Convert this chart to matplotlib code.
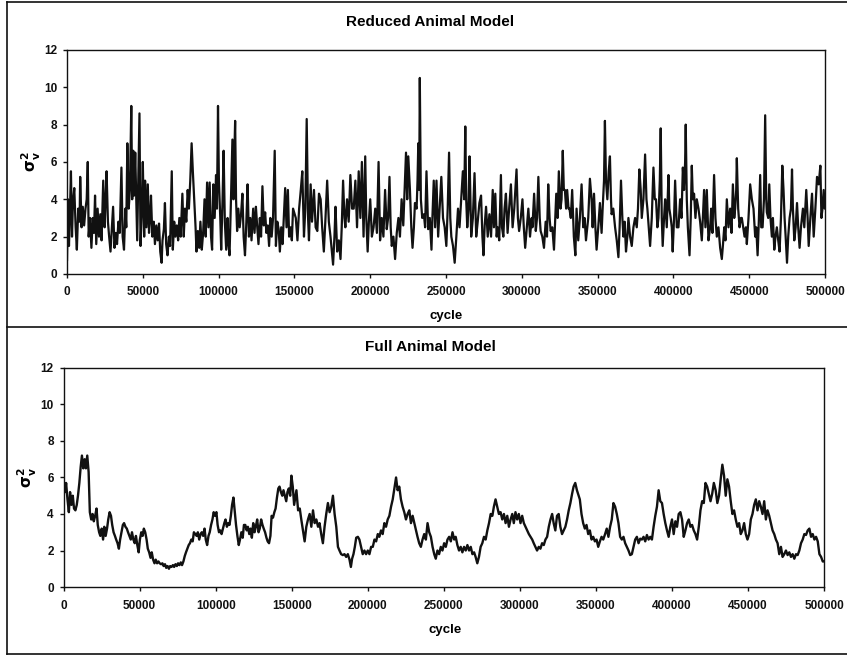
import matplotlib
matplotlib.use("Agg")
import matplotlib.pyplot as plt
from matplotlib.lines import Line2D

plt.rcParams['font.family'] = ['Liberation Sans', 'DejaVu Sans']
plt.rcParams['font.weight'] = 'bold'

# --- Reduced animal model trace (cycle in thousands, sigma_v^2) ---
reduced_cycle_k = [
    0, 0.65, 1.3, 2.0, 2.6, 3.3, 3.9, 4.8, 5.7, 6.5, 7.4, 8.3, 8.7, 9.6, 10.4, 11.3, 12.2, 13.0, 13.7, 14.3,
    15.2, 16.1, 17.0, 17.8, 18.5, 19.3, 20.2, 21.1, 22.0, 22.8, 23.9, 24.8, 25.4, 26.1, 27.0, 27.8, 28.7, 29.6,
    30.4, 31.3, 32.2, 33.0, 33.9, 34.8, 35.9, 36.7, 37.6, 38.5, 39.1, 39.8, 40.7, 41.5, 42.4, 43.0, 43.7, 44.3,
    45.0, 45.7, 46.3, 47.0, 47.8, 48.5, 49.4, 50.0, 50.9, 51.5, 52.4, 53.3, 54.1, 54.8, 55.4, 56.3, 57.2, 58.0,
    58.9, 59.8, 60.7, 61.5, 62.4, 63.0, 63.9, 64.6, 65.4, 66.3, 67.2, 68.0, 69.1, 69.8, 70.7, 71.5, 72.4, 73.3,
    74.1, 75.0, 76.1, 77.0, 77.8, 78.7, 79.6, 80.4, 81.3, 82.2, 83.0, 83.9, 84.8, 85.4, 86.3, 87.2, 88.0, 88.9,
    89.8, 90.7, 91.5, 92.4, 93.3, 94.1, 95.0, 95.7, 96.5, 97.4, 98.3, 98.9, 99.6, 100.2, 101.1, 101.7, 102.6,
    103.3, 104.1, 105.0, 105.9, 106.5, 107.2, 108.0, 109.1, 109.8, 110.4, 110.9, 111.5, 112.2, 113.0, 113.9,
    114.8, 115.7, 116.5, 117.4, 118.3, 119.1, 120.0, 120.9, 121.7, 122.8, 123.7, 124.6, 125.4, 126.3, 127.2,
    128.0, 128.9, 129.8, 130.7, 131.5, 132.4, 133.3, 134.1, 135.0, 135.9, 137.0, 137.8, 138.7, 139.6, 140.4,
    141.3, 142.2, 143.0, 143.9, 144.8, 145.7, 146.5, 147.4, 148.3, 149.1,
    150.9, 152.0, 153.1, 154.2, 155.2, 156.3, 157.2, 158.1, 159.0, 159.6, 160.7, 161.6, 162.5, 162.9, 164.0,
    165.1, 166.2, 167.3, 168.3, 169.4, 170.5, 171.6, 172.7, 173.8, 174.7, 175.5, 176.4, 177.1, 178.2, 179.3,
    180.4, 181.2, 182.1, 183.0, 183.6, 184.7, 185.8, 186.9, 188.0, 189.1, 190.2, 191.3, 192.4, 193.5, 194.5,
    195.6, 196.7, 197.4, 198.3, 199.1, 200.0, 201.1, 202.2, 203.3, 204.4, 205.5, 206.5, 207.6, 208.7, 209.8,
    210.9, 211.8, 212.7, 213.5, 214.2, 215.3, 216.4, 217.5, 218.6, 219.6, 220.7, 221.8, 222.9, 223.6, 224.4,
    225.1, 226.2, 227.1, 227.9, 228.8, 229.5, 230.6, 231.2, 231.7, 232.3, 232.7, 233.4, 234.3, 235.4, 236.2,
    237.1, 238.2, 239.3, 240.4, 241.0, 241.9, 242.8, 243.7, 244.8, 245.8, 246.9, 248.0, 249.1, 250.2, 251.1,
    252.0, 252.8, 253.5, 254.6, 255.7, 256.8, 257.9, 258.9, 260.0, 261.1, 262.0, 262.7, 263.3, 264.0, 264.8,
    265.5, 266.6, 267.7, 268.8, 269.9, 270.9, 272.0, 273.1, 274.0, 274.7, 275.5, 276.4, 277.5, 278.6, 279.7,
    280.8, 281.6, 282.5, 283.4, 284.0, 285.1, 286.2, 286.9, 287.8, 288.6, 289.5, 290.6, 291.7, 292.8, 293.9,
    295.0, 296.5, 297.4, 298.2, 299.3, 300.4, 301.3, 302.2, 303.3, 304.3, 305.4, 306.5, 307.0, 308.1, 309.2,
    310.0, 310.9, 311.8, 312.4, 313.5, 314.6, 315.7, 316.6, 317.4, 318.3, 319.0, 320.1, 321.2, 321.8, 322.7,
    323.6, 324.4, 325.5, 326.2, 327.0, 327.7, 328.4, 329.2, 329.9, 330.8, 331.4, 332.3, 333.2, 334.3, 335.3,
    336.1, 337.2, 338.3, 339.4, 340.5, 341.4, 342.3, 343.2, 343.8, 344.9, 346.0, 346.7, 347.6, 348.5, 349.3,
    350.4, 351.5, 352.6, 353.3, 354.2, 354.8, 355.5, 356.4, 357.3, 358.1, 358.8, 359.2, 360.3, 361.5, 362.6,
    363.7, 364.5, 365.4, 366.3, 367.0, 367.8, 368.7, 369.6, 370.3, 371.4, 372.5, 373.6, 374.7, 375.8, 376.6,
    377.5, 378.4, 379.1, 380.2, 381.3, 382.2, 382.8, 383.7, 384.6, 385.7, 386.8, 387.7, 388.5, 389.4, 390.1,
    391.0, 391.6, 392.3, 392.9, 393.8, 394.5, 395.6, 396.7, 397.3, 398.2, 398.9, 399.5, 400.4, 401.1, 402.2,
    403.3, 404.4, 405.3, 406.2, 407.0, 407.7, 408.1, 408.8, 409.5, 410.6, 411.4, 412.1, 412.8, 413.6, 414.5,
    415.4, 416.5, 417.6, 418.7, 419.4, 420.2, 421.1, 422.0, 423.1, 424.2, 424.9, 425.7, 426.8, 427.7, 428.6,
    429.7, 430.8, 431.9, 432.6, 433.5, 434.3, 435.2, 436.3, 437.4, 438.3, 439.2, 440.1, 440.7, 441.4, 441.8,
    442.7, 443.6, 444.5, 445.1, 446.0, 446.9, 447.8, 448.4, 449.5, 450.6, 451.7, 452.8, 453.9, 454.6, 455.5,
    456.3, 457.2, 457.9, 458.8, 459.7, 460.5, 461.2, 461.6, 462.5, 463.2, 464.0, 464.9, 465.6, 466.5, 467.3,
    468.2, 469.1, 470.0, 470.9, 471.8, 472.6, 473.3, 474.0, 474.9, 475.7, 476.6, 477.5, 478.2, 478.8, 479.7,
    480.6, 481.5, 482.3, 483.2, 484.1, 485.4, 486.3, 487.6, 488.5, 489.2, 490.3, 491.4, 492.5, 493.6, 494.7,
    495.8, 496.9, 497.6, 498.3, 499.1, 499.8,
]
reduced_sigma2 = [
    0.7, 4.0, 1.5, 3.5, 5.5, 2.0, 3.8, 4.6, 2.5, 1.3, 3.5, 2.8, 5.2, 2.5, 3.6, 2.6, 3.5, 4.0, 6.0, 2.0,
    3.0, 1.4, 3.0, 2.2, 4.2, 1.6, 3.5, 2.0, 3.2, 1.8, 5.0, 2.5, 3.8, 5.5, 2.8, 2.0, 1.2, 2.5,
    3.6, 1.4, 2.2, 1.6, 2.8, 2.2, 5.7, 2.0, 1.3, 3.5, 2.5, 7.0, 3.5, 4.5, 9.0, 4.0, 6.6, 4.2,
    6.5, 4.0, 1.8, 5.0, 8.6, 1.5, 3.5, 6.0, 2.0, 5.0, 2.5, 4.8, 2.2, 3.0, 4.2, 2.0, 2.8, 1.6,
    2.6, 1.8, 2.7, 1.2, 0.6, 1.8, 2.4, 3.8, 1.6, 1.0, 2.0, 1.5, 5.5, 1.3, 2.8, 2.0, 2.6, 1.8,
    3.0, 2.0, 4.3, 2.0, 3.5, 2.8, 4.5, 3.5, 5.0, 7.0, 5.5, 4.0, 2.5, 1.2, 2.3, 1.4, 2.8, 1.3,
    2.2, 4.0, 2.0, 4.9, 2.5, 4.9, 2.0, 1.3, 4.8, 3.0, 5.3, 3.5, 9.0, 5.0, 3.0, 1.3, 4.0,
    6.6, 2.8, 1.3, 3.0, 1.6, 1.0, 3.5, 7.2, 4.0, 6.5, 8.2, 4.0, 2.3, 3.5, 2.5,
    3.2, 4.3, 2.0, 1.0, 2.8, 4.8, 2.0, 3.0, 1.8, 3.5, 2.2, 3.6, 2.6, 1.6, 3.0,
    2.0, 4.7, 2.6, 3.3, 2.2, 2.6, 1.5, 3.0, 2.0, 3.0, 6.6, 1.5, 2.8, 2.4, 1.2,
    2.5, 1.6, 3.0, 4.6, 2.5, 4.5, 2.0, 2.5, 1.8, 3.5,
    3.0, 1.8, 3.5, 4.5, 5.5, 2.0, 3.5, 8.3, 3.0, 1.8, 4.8, 2.8, 4.0, 4.5, 2.5,
    2.3, 4.3, 4.0, 2.5, 1.2, 3.0, 5.0, 2.8, 2.0, 1.2, 0.5, 2.0, 3.6, 1.2, 1.8,
    0.8, 2.5, 5.0, 3.0, 2.5, 4.0, 2.8, 5.3, 3.5, 3.5, 5.0, 2.5, 5.5, 3.0, 6.0,
    2.0, 6.3, 3.0, 1.2, 2.8, 4.0, 2.0, 2.5, 3.5, 2.2, 6.0, 1.8, 3.0, 2.0, 4.5,
    2.4, 3.0, 5.2, 2.5, 1.5, 2.0, 0.8, 2.2, 3.0, 2.0, 4.0, 2.6, 5.0, 6.5, 4.0,
    6.3, 4.5, 2.5, 1.4, 2.5, 3.8, 3.5, 5.0, 7.0, 4.5, 10.5, 4.0, 3.0, 3.2, 2.5,
    5.5, 2.4, 3.0, 1.3, 3.0, 5.0, 2.5, 5.0, 2.0, 3.5, 5.2, 3.0, 2.5, 1.5, 3.5,
    6.5, 3.0, 2.0, 1.5, 0.6, 2.0, 3.5, 2.5, 4.0, 5.5, 4.0, 7.9, 4.0, 2.5, 3.5,
    6.3, 2.0, 3.0, 5.4, 2.0, 2.8, 3.8, 4.2, 2.0, 1.0, 2.6, 3.6, 2.0, 3.2, 2.0,
    4.5, 2.5, 4.3, 2.0, 2.5, 1.8, 5.3, 2.5, 2.0, 3.5, 4.3, 2.2, 3.6, 4.8, 2.5,
    3.5, 5.6, 3.0, 2.3, 3.0, 4.0, 2.5, 1.4, 2.5, 3.5, 2.0, 3.0, 2.5, 4.3, 2.3,
    3.0, 5.2, 3.0, 2.3, 2.0, 1.4, 2.8, 2.0, 4.8, 3.0, 2.3, 2.5, 1.3, 2.5, 4.3,
    3.0, 5.5, 3.5, 4.0, 6.6, 4.5, 4.5, 3.5, 4.5, 3.5, 3.5, 3.0, 4.5, 2.0, 1.0,
    3.5, 1.8, 3.0, 4.8, 2.5, 3.0, 1.8, 2.5, 3.0, 5.1, 4.0, 2.5, 4.3, 2.5, 1.3,
    2.5, 3.8, 2.2, 3.5, 5.0, 8.2, 5.0, 4.0, 5.5, 6.3, 4.0, 3.2, 3.5, 2.5, 1.8,
    0.9, 2.5, 5.0, 3.0, 2.0, 2.8, 1.2, 2.0, 3.0, 2.0, 1.5, 2.5, 3.0, 2.5, 3.5,
    5.6, 4.5, 3.0, 4.0, 6.4, 4.0, 3.5, 2.5, 1.5, 3.0, 5.7, 4.0, 4.0, 2.5, 3.0,
    5.0, 7.8, 3.0, 1.5, 3.0, 4.0, 2.5, 5.3, 3.5, 3.0, 2.5, 1.2, 3.0, 5.0, 2.5,
    2.5, 4.0, 3.0, 5.7, 4.5, 6.0, 8.0, 4.0, 2.5, 1.0, 3.0, 5.8, 4.0, 4.3, 3.0,
    4.0, 3.5, 2.8, 1.8, 3.0, 4.5, 2.5, 4.5, 1.8, 2.5, 3.5, 2.2, 5.3, 3.0, 2.0,
    2.5, 1.4, 0.8, 1.5, 2.5, 1.8, 4.0, 2.5, 3.5, 2.2, 4.8, 3.0, 3.5, 4.5, 6.2,
    3.5, 2.5, 3.0, 3.0, 2.5, 2.0, 2.5, 1.6, 3.0, 4.8, 4.0, 3.5, 2.0, 2.5, 1.0,
    2.8, 5.3, 2.5, 2.5, 4.0, 8.5, 4.0, 3.3, 3.0, 4.8, 3.0, 2.0, 3.0, 1.3, 2.0,
    2.5, 1.8, 1.2, 3.0, 5.8, 4.5, 3.0, 2.0, 0.6, 2.0, 3.0, 3.5, 5.6, 3.5, 1.8,
    2.5, 3.8, 2.5, 1.4, 2.5, 3.5, 2.5, 4.5, 3.0, 1.5, 3.0, 4.3, 2.0, 3.5, 5.2,
    4.8, 5.8, 3.0, 3.5, 4.5, 3.5,
]

# --- Full animal model trace ---
full_cycle_k = [
    0, 1.1, 1.7, 2.6, 3.5, 4.3, 5.2, 6.1, 6.9, 7.8, 8.7, 9.5, 10.4, 11.3, 12.1, 13.0, 13.9, 14.7, 15.6, 16.5,
    17.3, 18.2, 19.1, 19.9, 20.8, 21.7, 22.5, 23.4, 24.2, 25.1, 26.0, 26.8, 27.7, 28.6, 29.4, 30.3, 31.2, 32.0,
    32.9, 33.8, 34.6, 35.5, 36.4, 37.2, 38.1, 39.0, 39.8, 40.7, 41.6, 42.4, 43.3, 44.2, 45.0, 45.9, 46.8, 47.6,
    48.5, 49.4, 50.2, 51.1, 52.0, 52.8, 53.7, 54.6, 55.4, 56.3, 57.2, 58.0, 58.9, 59.8, 60.6, 61.5, 62.4, 63.2,
    64.1, 65.0, 65.8, 66.7, 67.5, 68.4, 69.3, 70.1, 71.0, 71.9, 72.7, 73.6, 74.5, 75.3, 76.2, 77.1, 77.9, 78.8,
    79.7, 80.5, 81.4, 82.3, 83.1, 84.0, 84.9, 85.7, 86.6, 87.5, 88.3, 89.2, 90.1, 90.9, 91.8, 92.7, 93.5, 94.4,
    95.3, 96.1, 97.0, 97.9, 98.7, 99.6, 100.5, 101.3, 102.2, 103.1, 103.9, 104.8, 105.7, 106.5, 107.4, 108.3,
    109.1, 110.0, 110.8, 111.7, 112.6, 113.4, 114.3, 115.2, 116.0, 116.9, 117.8, 118.6, 119.5, 120.4, 121.2,
    122.1, 123.0, 123.8, 124.7, 125.6, 126.4, 127.3, 128.2, 129.0, 129.9, 130.8, 131.6, 132.5, 133.4, 134.2,
    135.1, 136.0, 136.8, 137.7, 138.6, 139.4, 140.3, 141.2, 142.0, 142.9, 143.8, 144.6, 145.5, 146.4, 147.2,
    148.1, 149.0, 149.8, 150.7, 151.6,
    153.1, 154.2, 155.3, 156.3, 157.4, 158.5, 159.6, 160.7, 161.8, 162.9, 164.0, 165.1, 166.2, 167.3, 168.3,
    169.4, 170.5, 171.6, 172.7, 173.8, 174.9, 176.0, 177.1, 178.2, 179.3, 180.4, 181.4, 182.5, 183.6, 184.7,
    185.8, 186.9, 188.0, 188.9, 189.7, 190.6, 191.5, 192.4, 193.5, 194.5, 195.6, 196.7, 197.8, 198.9, 200.0,
    201.1, 202.2, 203.3, 204.4, 205.5, 206.6, 207.6, 208.7, 209.8, 210.9, 212.0, 213.1, 214.2, 215.3, 216.4,
    217.5, 218.6, 219.6, 220.7, 221.8, 222.9, 224.0, 225.1, 226.2, 227.3, 228.4, 229.5, 230.6, 231.7, 232.7,
    233.8, 234.9, 236.0, 237.1, 238.2, 239.3, 240.4, 241.5, 242.6, 243.7, 244.7, 245.8, 246.9, 248.0, 249.1,
    250.2, 251.3, 252.4, 253.5, 254.6, 255.7, 256.8, 257.8, 258.9, 260.0, 261.1, 262.2, 263.3, 264.4, 265.5,
    266.6, 267.7, 268.8, 269.9, 270.9, 272.0, 273.1, 274.2, 275.3, 276.4, 277.5, 278.6, 279.7, 280.8, 281.9,
    282.9, 284.0, 285.1, 286.2, 287.3, 288.4, 289.5, 290.6, 291.7, 292.8, 293.9, 295.0, 296.0, 297.1, 298.2,
    299.3, 300.4, 301.5, 302.6, 303.7, 304.8, 305.9, 307.0, 308.1, 309.1, 310.2, 311.3, 312.4, 313.5, 314.6,
    315.7, 316.8, 317.9, 319.0, 320.1, 321.2, 322.2, 323.3, 324.4, 325.5, 326.6, 327.7, 328.8, 329.9, 331.0,
    332.1, 333.2, 334.3, 335.3, 336.4, 337.5,
    338.6, 339.4, 340.5, 341.6, 342.7, 343.8, 344.9, 346.0, 347.1, 348.2, 349.3, 350.4, 351.5, 352.6, 353.7,
    354.8, 356.0, 357.1, 358.2, 359.3, 360.4, 361.5, 362.6, 363.7, 364.8, 365.9, 367.0, 368.1, 369.2, 370.3,
    371.4, 372.5, 373.6, 374.7, 375.8, 376.9, 378.0, 379.1, 380.2, 381.3, 382.4, 383.5, 384.6, 385.7, 386.8,
    387.9, 389.0, 390.1, 391.2, 392.3, 393.4, 394.5, 395.6, 396.7, 397.8, 398.9, 400.0, 401.1, 402.2, 403.3,
    404.4, 405.5, 406.6, 407.7, 408.8, 409.9, 411.0, 412.1, 413.2, 414.3, 415.4, 416.5, 417.6, 418.7, 419.8,
    420.9, 422.0, 423.1, 424.2, 425.3, 426.4, 427.5, 428.7, 429.8, 430.9, 432.0, 433.1, 434.2, 435.3, 436.4,
    437.5, 438.6, 439.7, 440.8, 441.9, 443.0, 444.1, 445.2, 446.3, 447.4, 448.5, 449.6, 450.7, 451.8, 452.9,
    454.0, 455.1, 456.2, 457.3, 458.4, 459.5, 460.6, 461.7, 462.8, 463.9, 465.0, 466.1, 467.2, 468.3, 469.4,
    470.5, 471.6, 472.7, 473.8, 474.9, 476.0, 477.1, 478.2, 479.3, 480.4, 481.5, 482.6, 483.7, 484.8, 485.9,
    487.0, 488.1, 489.2, 490.3, 491.4, 492.5, 493.6, 494.7, 495.8, 496.9, 498.0, 499.1, 500.0,
]
full_sigma2 = [
    5.9, 5.2, 5.7, 4.8, 4.1, 5.2, 4.5, 5.0, 4.3, 4.2, 4.5, 5.0, 5.7, 6.6, 7.2, 6.5, 7.0, 6.5, 7.2, 6.3,
    4.1, 3.7, 4.0, 3.6, 3.9, 4.3, 3.4, 3.0, 2.8, 3.2, 2.6, 3.3, 2.8, 3.2, 3.7, 4.1, 3.9, 3.4,
    3.0, 2.8, 2.6, 2.4, 2.1, 2.6, 3.0, 3.4, 3.5, 3.3, 3.2, 3.0, 2.8, 2.6, 3.0, 2.6, 2.4, 2.8,
    2.3, 1.9, 2.6, 3.0, 2.8, 3.2, 3.0, 2.6, 2.1, 1.9, 1.6, 1.9, 1.5, 1.3, 1.5, 1.3, 1.4, 1.3,
    1.25, 1.3, 1.15, 1.25, 1.05, 1.15, 1.0, 1.15, 1.1, 1.2, 1.1, 1.25, 1.15, 1.3, 1.2, 1.35, 1.2, 1.4,
    1.7, 1.9, 2.1, 2.3, 2.4, 2.6, 2.5, 3.0, 2.9, 2.8, 3.0, 2.6, 2.9, 3.0, 2.8, 3.2, 2.6, 2.3,
    2.8, 3.0, 3.4, 3.7, 4.1, 3.9, 4.1, 3.4, 3.0, 3.1, 2.9, 3.2, 3.5, 3.7, 3.3, 3.5,
    3.4, 3.9, 4.5, 4.9, 4.1, 3.4, 2.8, 2.3, 2.6, 3.0, 2.7, 3.4, 3.4, 3.1, 3.3,
    2.9, 3.2, 2.7, 3.5, 3.0, 3.3, 3.7, 3.0, 3.2, 3.7, 3.4, 3.2, 3.0, 2.7, 2.5,
    2.4, 2.8, 3.9, 3.8, 4.1, 4.3, 4.9, 5.4, 5.5, 5.2, 5.0, 5.3, 5.0, 4.7, 5.2,
    5.4, 5.0, 6.1, 5.5, 4.5,
    5.3, 4.2, 4.3, 3.7, 3.1, 2.5, 3.3, 3.7, 4.0, 3.3, 4.2, 3.5, 3.7, 3.3, 3.5,
    2.9, 2.4, 3.3, 4.0, 4.6, 4.1, 4.4, 5.0, 4.0, 3.3, 2.2, 2.0, 1.8, 1.75, 1.8,
    1.65, 1.8, 1.5, 1.1, 1.55, 1.8, 2.2, 2.7, 2.75, 2.6, 2.2, 1.8, 2.0, 1.8, 2.0,
    1.8, 2.2, 2.2, 2.6, 2.5, 2.9, 2.75, 3.1, 2.9, 3.5, 3.3, 3.7, 3.9, 4.4, 4.8,
    5.4, 6.0, 5.3, 5.5, 4.8, 4.4, 4.1, 3.7, 4.0, 4.2, 3.5, 3.9, 3.5, 3.1, 2.75,
    2.4, 2.2, 2.6, 2.9, 2.6, 3.5, 3.0, 2.75, 2.2, 1.8, 1.55, 2.0, 1.8, 2.2, 2.0,
    2.4, 2.2, 2.6, 2.75, 2.5, 3.0, 2.6, 2.75, 2.3, 2.0, 2.2, 1.9, 2.2, 2.0, 2.3,
    2.0, 2.2, 1.8, 1.9, 1.65, 1.3, 1.65, 2.2, 2.4, 2.75, 2.6, 3.1, 3.5, 4.0, 3.9,
    4.4, 4.8, 4.4, 4.0, 4.1, 3.7, 4.0, 3.5, 3.9, 3.3, 3.7, 4.0, 3.5, 4.1, 3.7,
    4.0, 3.5, 3.9, 3.5, 3.3, 3.1, 2.9, 2.75, 2.6, 2.4, 2.2, 2.0, 2.2, 2.1, 2.4,
    2.3, 2.6, 2.75, 3.3, 3.7, 4.0, 3.5, 3.1, 3.9, 4.0, 3.3, 2.9, 3.1, 3.3, 3.7,
    4.2, 4.6, 5.1, 5.5, 5.7, 5.3,
    5.0, 4.8, 4.0, 3.5, 3.2, 3.4, 2.9, 3.1, 2.6, 2.75, 2.5, 2.6, 2.2, 2.5, 2.75,
    2.6, 2.9, 3.2, 2.75, 3.3, 3.7, 4.6, 4.4, 4.0, 3.5, 2.75, 2.6, 2.75, 2.4, 2.2,
    2.0, 1.75, 1.8, 2.2, 2.6, 2.75, 2.4, 2.65, 2.6, 2.75, 2.5, 2.85, 2.6, 2.75, 2.6,
    3.3, 3.9, 4.4, 5.3, 4.7, 4.6, 4.0, 3.5, 3.1, 2.75, 3.3, 3.7, 2.9, 3.6, 3.3,
    4.0, 4.1, 3.7, 2.75, 3.1, 3.5, 3.7, 3.3, 3.4, 3.1, 2.9, 2.6, 3.3, 4.2, 4.7,
    4.6, 5.7, 5.5, 5.1, 4.7, 5.1, 5.7, 5.3, 4.6, 5.0, 5.9, 6.7, 6.1, 5.0, 5.9,
    5.5, 4.7, 4.0, 4.2, 3.7, 3.3, 3.5, 2.9, 3.1, 3.5, 2.9, 2.6, 2.9, 3.7, 4.0,
    4.5, 4.8, 4.2, 4.7, 4.4, 4.0, 4.7, 3.7, 4.2, 3.9, 3.5, 3.1, 2.9, 2.6, 2.4,
    1.8, 2.2, 1.65, 1.8, 2.0, 1.75, 1.9, 1.65, 1.8, 1.55, 1.8, 1.75, 2.0, 2.4, 2.6,
    2.9, 2.85, 3.1, 3.2, 2.75, 2.9, 2.6, 2.75, 2.5, 1.8, 1.65, 1.4, 1.4,
]

panel_titles = ["Reduced Animal Model", "Full Animal Model"]
x_ticks = list(range(0, 500001, 50000))
y_ticks = [0, 2, 4, 6, 8, 10, 12]

fig = plt.figure(figsize=(8.47, 6.57), dpi=100)

ax1 = fig.add_axes([0.0791, 0.583, 0.895, 0.341])
ax2 = fig.add_axes([0.075, 0.1065, 0.898, 0.3335])

series = [
    (ax1, reduced_cycle_k, reduced_sigma2, 1.6),
    (ax2, full_cycle_k, full_sigma2, 1.7),
]

for ax, cyc, vals, lw in series:
    ax.plot([c * 1000 for c in cyc], vals, color='#111111', lw=lw,
            solid_joinstyle='round', solid_capstyle='round')
    ax.set_xlim(0, 500000)
    ax.set_ylim(0, 12)
    ax.set_xticks(x_ticks)
    ax.set_yticks(y_ticks)
    ax.set_xticklabels([str(t) for t in x_ticks])
    ax.tick_params(axis='both', direction='out', length=3, width=1, labelsize=8.5,
                   pad=4, colors='#111111')
    ax.tick_params(axis='x', pad=6)
    for lab in ax.get_xticklabels() + ax.get_yticklabels():
        lab.set_fontweight('bold')
    for sp in ax.spines.values():
        sp.set_linewidth(1.0)
        sp.set_color('#111111')
    ax.set_ylabel(r'$\mathbf{\sigma_v^2}$', fontsize=11, labelpad=1)

fig.text(0.508, 0.9665, panel_titles[0], ha='center', va='center', fontsize=11, fontweight='bold')
fig.text(0.508, 0.472, panel_titles[1], ha='center', va='center', fontsize=11, fontweight='bold')
fig.text(0.527, 0.519, 'cycle', ha='center', va='center', fontsize=9.5, fontweight='bold')
fig.text(0.525, 0.041, 'cycle', ha='center', va='center', fontsize=9.5, fontweight='bold')

# panel frame lines
frame_kw = dict(color='#111111', lw=1.2, transform=fig.transFigure)
fig.add_artist(Line2D([0.008, 1.0], [0.997, 0.997], **frame_kw))
fig.add_artist(Line2D([0.008, 1.0], [0.502, 0.502], **frame_kw))
fig.add_artist(Line2D([0.008, 1.0], [0.005, 0.005], **frame_kw))
fig.add_artist(Line2D([0.008, 0.008], [0.005, 0.997], **frame_kw))

fig.savefig('out.png', dpi=100)
